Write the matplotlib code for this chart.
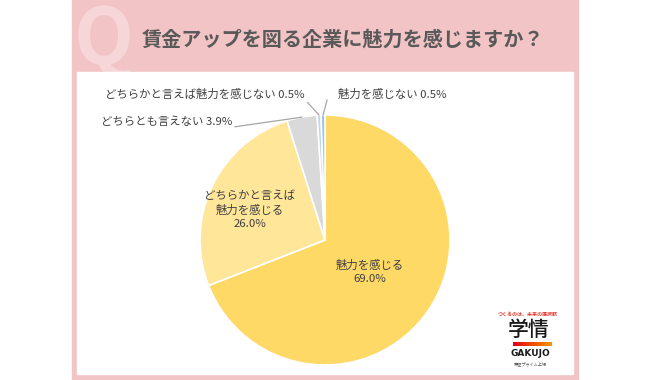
import numpy as np
import matplotlib
matplotlib.use("Agg")
import matplotlib.pyplot as plt
from matplotlib.patches import Rectangle

plt.rcParams['font.family'] = ['Noto Sans CJK JP', 'DejaVu Sans']

# Data
title = "賃金アップを図る企業に魅力を感じますか？"
labels = ["魅力を感じる", "どちらかと言えば\n魅力を感じる", "どちらとも言えない",
          "どちらかと言えば魅力を感じない", "魅力を感じない"]
values = [69.0, 26.0, 3.9, 0.5, 0.5]
colors = ["#FFD966", "#FFE699", "#D9D9D9", "#BDD7EE", "#9DC3E6"]

W, H = 650, 380
fig = plt.figure(figsize=(6.5, 3.8), dpi=100)
fig.patch.set_facecolor("white")

# background frame in pixel coordinates
bg = fig.add_axes([0, 0, 1, 1])
bg.set_xlim(0, W)
bg.set_ylim(H, 0)
bg.axis("off")
pink = "#F2C4C5"
bg.add_patch(Rectangle((72, 0), 506, 380, color=pink, zorder=0))
bg.text(104, 64, "Q", fontsize=56, fontweight="bold", color="#F6D6D7",
        ha="center", va="baseline", family="Noto Sans CJK JP", zorder=1)
bg.add_patch(Rectangle((77, 72), 496, 302, color="white", zorder=2))
bg.text(142, 39, title, fontsize=14.5, fontweight="bold", color="#595959",
        ha="left", va="center", zorder=3)

# logo
bg.text(528, 314, "つくるのは、未来の選択肢", fontsize=3.6, color="#E8382F",
        ha="center", va="center", fontweight="bold", zorder=3)
bg.text(529, 330, "学情", fontsize=15, color="#1a1a1a", ha="center",
        va="center", fontweight="medium", zorder=3)
grad = np.linspace(0, 1, 100).reshape(1, -1)
bg.imshow(grad, extent=(513, 552, 346, 342), aspect="auto", zorder=3,
          cmap=matplotlib.colors.LinearSegmentedColormap.from_list("g", ["#E60012", "#F39800"]))
bg.set_xlim(0, W)
bg.set_ylim(H, 0)
bg.text(530, 354, "GAKUJO", fontsize=6.5, color="#1a1a1a", ha="center",
        va="center", fontweight="bold", zorder=3, family="DejaVu Sans")
bg.text(530, 364, "東証プライム上場", fontsize=3, color="#555555", ha="center",
        va="center", zorder=3)

# pie
cx, cy, r = 325, 240, 125
ax = fig.add_axes([(cx - r) / W, (H - cy - r) / H, 2 * r / W, 2 * r / H])
wedges, _ = ax.pie(values, colors=colors, startangle=90, counterclock=False,
                   wedgeprops=dict(edgecolor="white", linewidth=1.2))
ax.set_xlim(-1, 1)
ax.set_ylim(-1, 1)
ax.axis("off")


def px(x, y):
    return ((x - cx) / r, (cy - y) / r)


def edge(w):
    a = np.deg2rad((w.theta1 + w.theta2) / 2)
    return (np.cos(a), np.sin(a))


tc = "#404040"
fs = 8.2
ax.text(*px(370, 272), f"{labels[0]}\n{values[0]:.1f}%", ha="center", va="center",
        fontsize=fs, color=tc, linespacing=1.4)
ax.text(*px(250, 210), f"{labels[1]}\n{values[1]:.1f}%", ha="center", va="center",
        fontsize=fs, color=tc, linespacing=1.4)

lc = "#A6A6A6"
ax.annotate(f"{labels[2]} {values[2]:.1f}%", xy=edge(wedges[2]), xytext=px(232, 122),
            ha="right", va="center", fontsize=fs, color=tc,
            arrowprops=dict(arrowstyle="-", color=lc, lw=0.9, relpos=(1, 0),
                            shrinkA=0, shrinkB=0))
ax.annotate(f"{labels[3]} {values[3]:.1f}%", xy=edge(wedges[3]), xytext=px(305, 94),
            ha="right", va="center", fontsize=fs, color=tc,
            arrowprops=dict(arrowstyle="-", color=lc, lw=0.9, relpos=(1, 0),
                            shrinkA=0, shrinkB=0))
ax.annotate(f"{labels[4]} {values[4]:.1f}%", xy=edge(wedges[4]), xytext=px(338, 94),
            ha="left", va="center", fontsize=fs, color=tc,
            arrowprops=dict(arrowstyle="-", color=lc, lw=0.9, relpos=(0, 0.15),
                            shrinkA=6, shrinkB=0,
                            connectionstyle="angle,angleA=0,angleB=75,rad=0"))

fig.savefig("out.png", dpi=100)
